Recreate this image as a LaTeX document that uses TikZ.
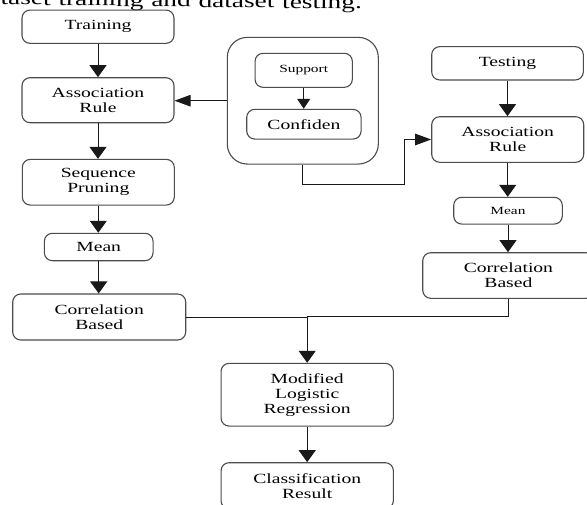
\documentclass[tikz,border=0pt]{standalone}
\usepackage{fontspec}
\setmainfont{Liberation Serif}[FakeStretch=1.4]
\usetikzlibrary{arrows.meta}
\begin{document}
\begin{tikzpicture}[x=1pt,y=-1pt,
  box/.style={draw=black!70, line width=1.1pt, rounded corners=8pt, inner sep=0pt, align=center, text=black, font=\fontsize{14}{15}\selectfont},
  smallbox/.style={box, font=\fontsize{11}{13}\selectfont},
  ln/.style={line width=1pt, draw=black!90},
  va/.style={ln, -{Triangle[length=12pt,width=17pt]}},
  ha/.style={ln, -{Triangle[length=16pt,width=11.5pt]}},
  sa/.style={ln, -{Triangle[length=10pt,width=13pt]}},
]
\clip (0,0) rectangle (587,504);
\fill[white] (0,0) rectangle (587,504);
% cropped caption line (only its lower part lies inside the picture)
\node[anchor=base east, inner sep=0pt, rotate=-0.7, font=\fontsize{19.5}{21}\selectfont] (cap) at (362,9) {\makebox[387pt][s]{dataset training and dataset testing.}};
% left column
\node[box, minimum width=152pt, minimum height=33.3pt] (train) at (98,26.7) {Training};
\node[box, minimum width=152pt, minimum height=45pt] (assocL) at (98,100.2) {Association\\Rule};
\node[box, minimum width=152pt, minimum height=45.7pt] (seq) at (98.3,182.2) {Sequence\\Pruning};
\node[box, minimum width=108.7pt, minimum height=27.4pt] (meanL) at (98.7,247) {Mean};
\node[box, minimum width=173pt, minimum height=46pt] (corrL) at (99.2,317) {Correlation\\Based};
% middle group
\node[box, rounded corners=20pt, minimum width=151pt, minimum height=126.7pt] (big) at (302.8,100.7) {};
\node[smallbox, minimum width=97.3pt, minimum height=34pt] (support) at (303.7,70.3) {Support};
\node[box, minimum width=114.3pt, minimum height=29.7pt] (conf) at (303.9,124.2) {Confiden};
% right column
\node[box, minimum width=151.6pt, minimum height=33.3pt] (test) at (507.5,63.3) {Testing};
\node[box, minimum width=152pt, minimum height=45.6pt] (assocR) at (507.7,139.5) {Association\\Rule};
\node[smallbox, minimum width=108.6pt, minimum height=26.7pt] (meanR) at (508,210.7) {Mean};
\node[box, minimum width=171.3pt, minimum height=45.6pt] (corrR) at (508.4,275.5) {Correlation\\Based};
% bottom
\node[box, minimum width=172.3pt, minimum height=62.7pt] (mod) at (307.2,394.7) {Modified\\Logistic\\Regression};
\node[box, minimum width=172.3pt, minimum height=46pt] (cls) at (307.2,485.7) {Classification\\Result};
% connectors left
\draw[va] (train.south) -- (train.south |- assocL.north);
\draw[va] (assocL.south) -- (assocL.south |- seq.north);
\draw[va] (seq.south) -- (seq.south |- meanL.north);
\draw[va] (meanL.south) -- (meanL.south |- corrL.north);
% middle
\draw[ha] (big.west) -- (big.west -| assocL.east);
\draw[sa] (support.south) -- (support.south |- conf.north);
\coordinate (k1) at (404.3,184.3);
\draw[ha] (big.south) |- (k1) |- (assocR.west);
% right
\draw[va] (test.south) -- (test.south |- assocR.north);
\draw[va] (assocR.south) -- (assocR.south |- meanR.north);
\draw[va] (meanR.south) -- (meanR.south |- corrR.north);
% merge
\coordinate (j) at (307.2,316.6);
\draw[ln] (corrL.east) -- (corrL.east -| j);
\draw[ln] (corrR.south) |- (j);
\draw[va] (j) -- (mod.north);
\draw[va] (mod.south) -- (cls.north);
\end{tikzpicture}
\end{document}
